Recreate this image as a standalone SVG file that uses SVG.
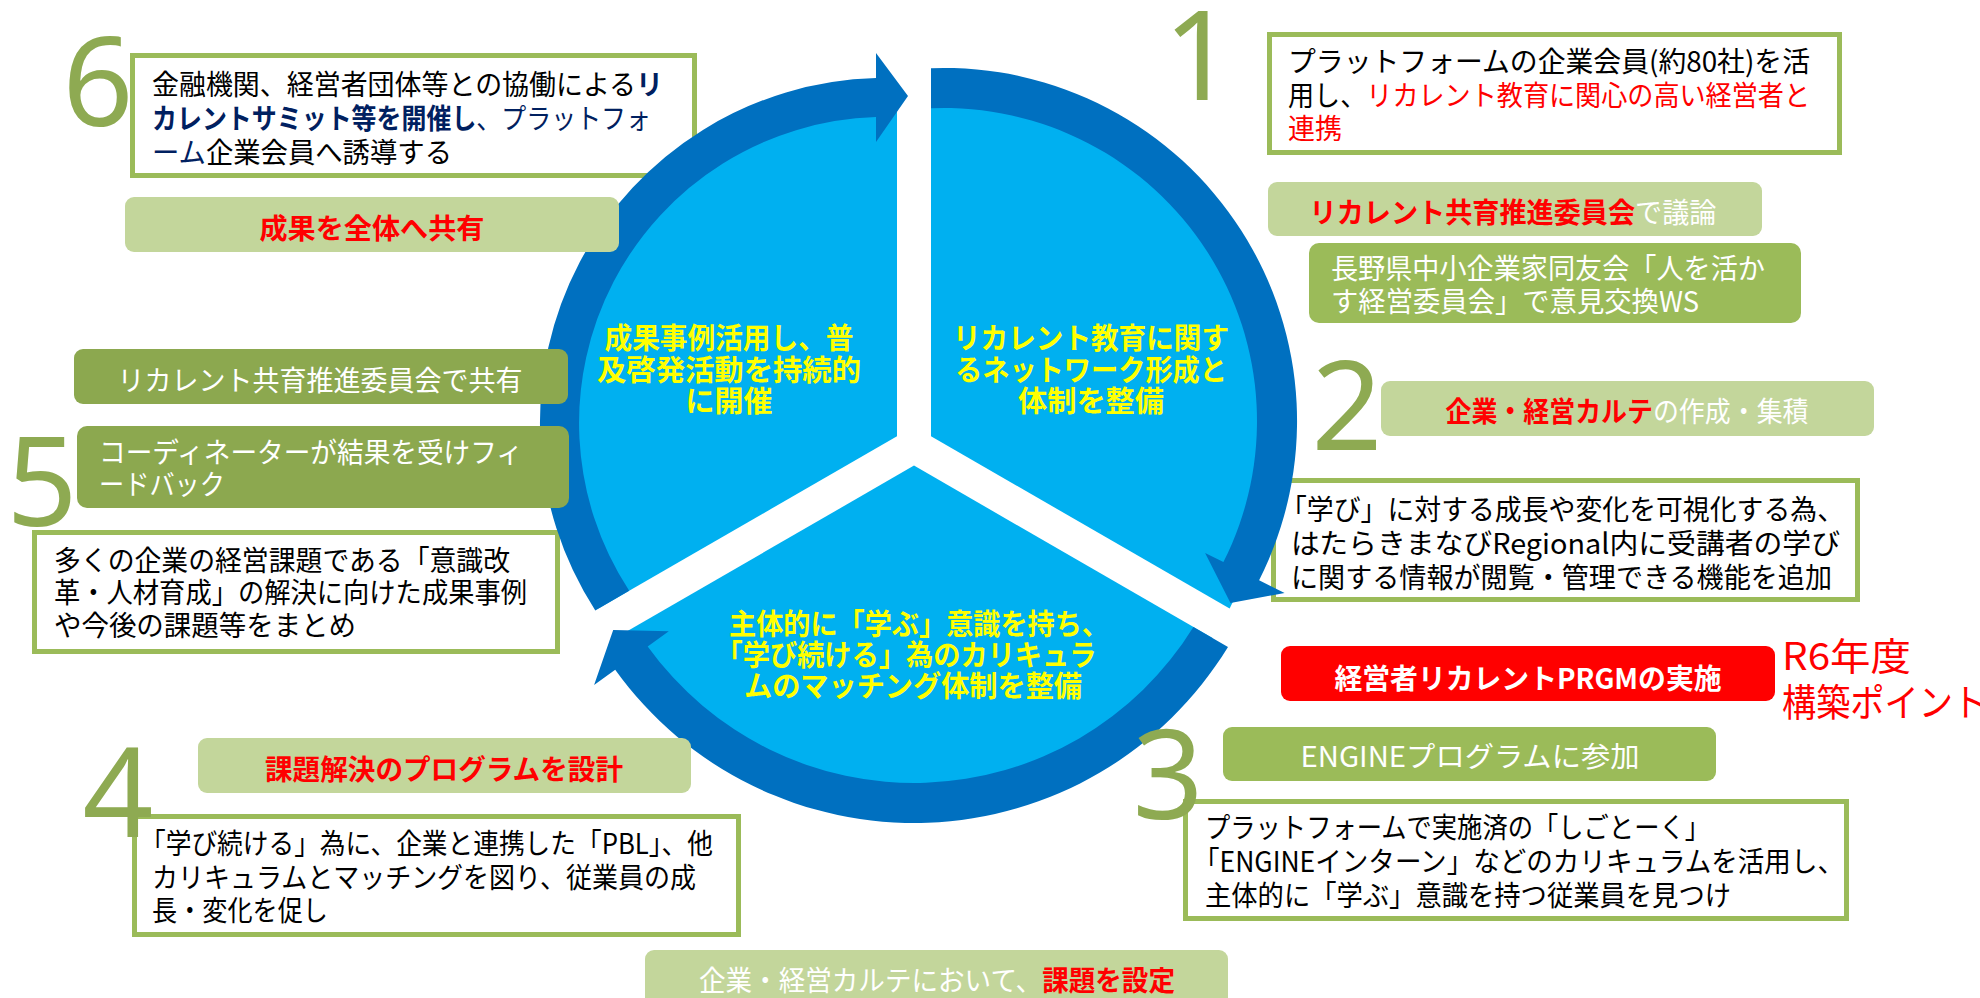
<svg xmlns="http://www.w3.org/2000/svg" width="1980" height="998" viewBox="0 0 1980 998">
<style>
text{font-family:"Noto Sans CJK JP","Noto Sans",sans-serif;font-size:28px}
.k{fill:#000000}
.r{fill:#FF0000}
.nv{fill:#002060}
.w{fill:#FFFFFF}
.b{font-weight:bold}
.y{fill:#FFFF00;font-weight:bold;font-size:29px}
.num{font-family:"Noto Sans","Liberation Sans",sans-serif;font-size:124px;fill:#8EAA52}
.big{font-size:38px;fill:#FF0000}
.wb{fill:#FFFFFF;stroke:#9BBB59;stroke-width:5}
.lg{fill:#C3D69B}
.og{fill:#8CA84F}
.gg{fill:#9BBB59}
.rd{fill:#FF0000}
.pie{fill:#00B0F0}
.arr{fill:#0070C0}
</style>
<rect x="0" y="0" width="1980" height="998" fill="#FFFFFF"/>

<!-- white bordered description boxes -->
<g id="box6">
<rect class="wb" x="132.5" y="55.5" width="562" height="120"/>
<text><tspan x="152" y="95" textLength="511" lengthAdjust="spacingAndGlyphs"><tspan class="k">金融機関、経営者団体等との協働による</tspan><tspan class="nv b">リ</tspan></tspan><tspan x="152" y="129" textLength="499" lengthAdjust="spacingAndGlyphs"><tspan class="nv b">カレントサミット等を開催し</tspan><tspan class="nv">、プラットフォ</tspan></tspan><tspan x="152" y="163" textLength="300" lengthAdjust="spacingAndGlyphs"><tspan class="nv">ーム</tspan><tspan class="k">企業会員へ誘導する</tspan></tspan></text>
</g>
<g id="box1">
<rect class="wb" x="1269.5" y="34.5" width="570" height="118"/>
<text><tspan class="k" x="1288" y="72" textLength="522" lengthAdjust="spacingAndGlyphs">プラットフォームの企業会員(約80社)を活</tspan><tspan x="1288" y="106" textLength="522" lengthAdjust="spacingAndGlyphs"><tspan class="k">用し、</tspan><tspan class="r">リカレント教育に関心の高い経営者と</tspan></tspan><tspan class="r" x="1288" y="139" textLength="54" lengthAdjust="spacingAndGlyphs">連携</tspan></text>
</g>
<g id="box2">
<rect class="wb" x="1273.5" y="480.5" width="584" height="119"/>
<text class="k"><tspan x="1280" y="520" textLength="564" lengthAdjust="spacingAndGlyphs">「学び」に対する成長や変化を可視化する為、</tspan><tspan x="1291" y="554" textLength="549" lengthAdjust="spacingAndGlyphs">はたらきまなびRegional内に受講者の学び</tspan><tspan x="1291" y="588" textLength="541" lengthAdjust="spacingAndGlyphs">に関する情報が閲覧・管理できる機能を追加</tspan></text>
</g>
<g id="box3">
<rect class="wb" x="1185.5" y="801.5" width="661" height="117"/>
<text class="k"><tspan x="1205" y="838" textLength="505" lengthAdjust="spacingAndGlyphs">プラットフォームで実施済の「しごとーく」</tspan><tspan x="1193" y="872" textLength="651" lengthAdjust="spacingAndGlyphs">「ENGINEインターン」などのカリキュラムを活用し、</tspan><tspan x="1205" y="906" textLength="526" lengthAdjust="spacingAndGlyphs">主体的に「学ぶ」意識を持つ従業員を見つけ</tspan></text>
</g>
<g id="box4">
<rect class="wb" x="134.5" y="816.5" width="604" height="118"/>
<text class="k"><tspan x="140" y="854" textLength="573" lengthAdjust="spacingAndGlyphs">「学び続ける」為に、企業と連携した「PBL」、他</tspan><tspan x="152" y="888" textLength="544" lengthAdjust="spacingAndGlyphs">カリキュラムとマッチングを図り、従業員の成</tspan><tspan x="152" y="921" textLength="176" lengthAdjust="spacingAndGlyphs">長・変化を促し</tspan></text>
</g>
<g id="box5">
<rect class="wb" x="34.5" y="532.5" width="523" height="119"/>
<text class="k"><tspan x="54" y="571" textLength="456" lengthAdjust="spacingAndGlyphs">多くの企業の経営課題である「意識改</tspan><tspan x="54" y="603" textLength="473" lengthAdjust="spacingAndGlyphs">革・人材育成」の解決に向けた成果事例</tspan><tspan x="54" y="636" textLength="302" lengthAdjust="spacingAndGlyphs">や今後の課題等をまとめ</tspan></text>
</g>

<!-- cycle: three pie segments -->
<g id="seg-network">
<path class="pie" d="M931 436.2 L931 91.4 A355 355 0 0 1 1229.6 608.6 Z"/>
<text class="y" text-anchor="middle"><tspan x="1091" y="349" textLength="276" lengthAdjust="spacingAndGlyphs">リカレント教育に関す</tspan><tspan x="1091" y="381" textLength="272" lengthAdjust="spacingAndGlyphs">るネットワーク形成と</tspan><tspan x="1091" y="412" textLength="146" lengthAdjust="spacingAndGlyphs">体制を整備</tspan></text>
</g>
<g id="seg-matching">
<path class="pie" d="M914 465.6 L1212.6 638 A355 355 0 0 1 615.4 638 Z"/>
<text class="y" text-anchor="middle"><tspan x="919" y="635" textLength="380" lengthAdjust="spacingAndGlyphs">主体的に「学ぶ」意識を持ち、</tspan><tspan x="906" y="666" textLength="381" lengthAdjust="spacingAndGlyphs">「学び続ける」為のカリキュラ</tspan><tspan x="913" y="697" textLength="338" lengthAdjust="spacingAndGlyphs">ムのマッチング体制を整備</tspan></text>
</g>
<g id="seg-share">
<path class="pie" d="M897 436.2 L598.4 608.6 A355 355 0 0 1 897 91.4 Z"/>
<text class="y" text-anchor="middle"><tspan x="729" y="349" textLength="249" lengthAdjust="spacingAndGlyphs">成果事例活用し、普</tspan><tspan x="729" y="381" textLength="264" lengthAdjust="spacingAndGlyphs">及啓発活動を持続的</tspan><tspan x="729" y="412" textLength="87" lengthAdjust="spacingAndGlyphs">に開催</tspan></text>
</g>

<!-- connectors: circular arrows -->
<g id="connectors">
<path class="arr" d="M595.3 610.4 A345 345 0 0 1 876 78.1 L876 53 L908 96 L876 142 L876 117.1 A306 306 0 0 0 629.2 590.8 Z"/>
<path class="arr" d="M931 68.2 A353 353 0 0 1 1259.1 580.2 L1284.6 593 L1230.5 603 L1205.1 552.9 L1223.4 562.1 A313 313 0 0 0 931 108.3 Z"/>
<path class="arr" d="M1228 646.9 A368 368 0 0 1 615.2 669.8 L594.1 684.9 L613.2 630 L668.8 631.2 L647.7 646.4 A328 328 0 0 0 1193.4 626.9 Z"/>
</g>

<!-- coloured label boxes -->
<g id="lbl-share-all">
<rect class="lg" x="125" y="197" width="494" height="55" rx="9"/>
<text class="r b" x="372" y="239" text-anchor="middle" textLength="225" lengthAdjust="spacingAndGlyphs">成果を全体へ共有</text>
</g>
<g id="lbl-committee-share">
<rect class="og" x="74" y="349" width="494" height="55" rx="9"/>
<text class="w" x="320" y="391" text-anchor="middle" textLength="405" lengthAdjust="spacingAndGlyphs">リカレント共育推進委員会で共有</text>
</g>
<g id="lbl-feedback">
<rect class="og" x="77" y="426" width="492" height="82" rx="10"/>
<text class="w"><tspan x="99" y="463" textLength="424" lengthAdjust="spacingAndGlyphs">コーディネーターが結果を受けフィ</tspan><tspan x="99" y="495" textLength="126" lengthAdjust="spacingAndGlyphs">ードバック</tspan></text>
</g>
<g id="lbl-design">
<rect class="lg" x="198" y="738" width="493" height="55" rx="9"/>
<text class="r b" x="444" y="780" text-anchor="middle" textLength="358" lengthAdjust="spacingAndGlyphs">課題解決のプログラムを設計</text>
</g>
<g id="lbl-set-issue">
<rect class="lg" x="645" y="950" width="583" height="70" rx="9"/>
<text x="937" y="991" text-anchor="middle" textLength="476" lengthAdjust="spacingAndGlyphs"><tspan class="w">企業・経営カルテにおいて、</tspan><tspan class="r b">課題を設定</tspan></text>
</g>
<g id="lbl-committee-discuss">
<rect class="lg" x="1268" y="182" width="494" height="54" rx="9"/>
<text x="1513" y="223" text-anchor="middle" textLength="407" lengthAdjust="spacingAndGlyphs"><tspan class="r b">リカレント共育推進委員会</tspan><tspan class="w">で議論</tspan></text>
</g>
<g id="lbl-ws">
<rect class="gg" x="1309" y="243" width="492" height="80" rx="10"/>
<text class="w"><tspan x="1331" y="279" textLength="434" lengthAdjust="spacingAndGlyphs">長野県中小企業家同友会「人を活か</tspan><tspan x="1331" y="312" textLength="368" lengthAdjust="spacingAndGlyphs">す経営委員会」で意見交換WS</tspan></text>
</g>
<g id="lbl-karte">
<rect class="lg" x="1381" y="381" width="493" height="55" rx="9"/>
<text x="1627" y="422" text-anchor="middle" textLength="363" lengthAdjust="spacingAndGlyphs"><tspan class="r b">企業・経営カルテ</tspan><tspan class="w">の作成・集積</tspan></text>
</g>
<g id="lbl-prgm">
<rect class="rd" x="1281" y="646" width="494" height="55" rx="9"/>
<text class="w b" x="1528" y="689" text-anchor="middle" textLength="387" lengthAdjust="spacingAndGlyphs">経営者リカレントPRGMの実施</text>
</g>
<g id="lbl-r6">
<text class="big"><tspan x="1782" y="670" textLength="129" lengthAdjust="spacingAndGlyphs">R6年度</tspan><tspan x="1782" y="716" textLength="205" lengthAdjust="spacingAndGlyphs">構築ポイント</tspan></text>
</g>
<g id="lbl-engine">
<rect class="gg" x="1223" y="727" width="493" height="54" rx="9"/>
<text class="w" x="1470" y="767" text-anchor="middle" textLength="339" lengthAdjust="spacingAndGlyphs">ENGINEプログラムに参加</text>
</g>

<!-- step numbers -->
<g id="num1"><text class="num" x="1199" y="100" text-anchor="middle">1</text></g>
<g id="num2"><text class="num" x="1347" y="450" text-anchor="middle">2</text></g>
<g id="num3"><text class="num" x="1168" y="819" text-anchor="middle">3</text></g>
<g id="num4"><text class="num" x="118" y="837" text-anchor="middle">4</text></g>
<g id="num5"><text class="num" x="42" y="526" text-anchor="middle">5</text></g>
<g id="num6"><text class="num" x="98" y="126" text-anchor="middle">6</text></g>
</svg>
